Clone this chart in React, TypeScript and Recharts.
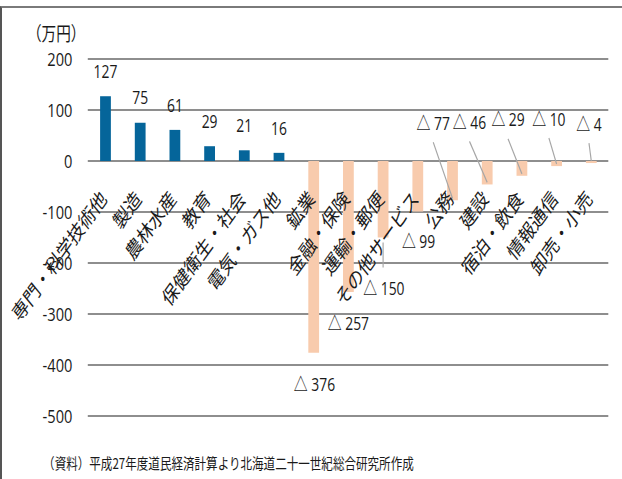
import { BarChart, Bar, XAxis, YAxis, CartesianGrid, Cell, LabelList } from "recharts";

// 産業別の変化額（万円）
const categories = [
  "専門・科学技術他",
  "製造",
  "農林水産",
  "教育",
  "保健衛生・社会",
  "電気・ガス他",
  "鉱業",
  "金融・保険",
  "運輸・郵便",
  "その他サービス",
  "公務",
  "建設",
  "宿泊・飲食",
  "情報通信",
  "卸売・小売",
];
const values = [127, 75, 61, 29, 21, 16, -376, -257, -150, -99, -77, -46, -29, -10, -4];
const yTicks = [-500, -400, -300, -200, -100, 0, 100, 200];

const data = categories.map((name, i) => ({ name, value: values[i] }));

// the picture is squeezed sideways, so the chart is drawn wide and then scaled
const SX = 0.77;
const W = Math.round(622 / SX);
const H = 479;

const POS = "#05659a";
const NEG = "#f8cbad";
const GRID = "#8e8e8e";
const INK = "#1a1a1a";
const NUM_FONT = "'Open Sans', 'Noto Sans CJK JP', sans-serif";
const JP_FONT = "'Noto Sans CJK JP', sans-serif";

// where the negative value labels sit, relative to the bar end: [dx, dy, leader line]
const negLabelPlace: Record<number, [number, number, boolean]> = {
  6: [1, 32, false],
  7: [0, 31, false],
  8: [1, 51, true],
  9: [1, 30, false],
  10: [-25, -77, true],
  11: [-23, -62, true],
  12: [-18, -56, true],
  13: [-10, -47, true],
  14: [-3, -39, true],
};

const barGeom = (p: any) => {
  const x = p.x ?? p.viewBox?.x;
  const y = p.y ?? p.viewBox?.y;
  const w = p.width ?? p.viewBox?.width;
  const h = p.height ?? p.viewBox?.height;
  const top = Math.min(y, y + h);
  const bottom = Math.max(y, y + h);
  return { cx: x + w / 2, top, bottom };
};

const ValueLabel = (p: any) => {
  const v = Number(p.value);
  const { cx, top, bottom } = barGeom(p);
  if (v >= 0) {
    return (
      <text x={cx} y={top - 25} textAnchor="middle" dominantBaseline="central" fontSize={18} fill={INK} fontFamily={NUM_FONT}>
        {v}
      </text>
    );
  }
  const place = negLabelPlace[p.index] || [0, 30, false];
  const lx = cx + place[0];
  const ly = bottom + place[1];
  let leader = null;
  if (place[2]) {
    leader =
      place[1] > 0 ? (
        <line x1={cx} y1={bottom + 5} x2={cx} y2={ly - 21} stroke="#a6a6a6" strokeWidth={1.5} />
      ) : (
        <line x1={lx} y1={ly + 19} x2={cx} y2={bottom - 2} stroke="#a6a6a6" strokeWidth={1.5} />
      );
  }
  return (
    <g>
      {leader}
      <text x={lx} y={ly} textAnchor="middle" dominantBaseline="central" fontSize={18} fill={INK} fontFamily={NUM_FONT}>
        {"△ " + Math.abs(v)}
      </text>
    </g>
  );
};

const CategoryLabel = (p: any) => {
  const { cx, top, bottom } = barGeom(p);
  const zero = Number(values[p.index]) >= 0 ? bottom : top;
  const px = cx + 3;
  const py = zero + 39;
  return (
    <text
      x={px}
      y={py}
      textAnchor="end"
      fontSize={21}
      fill={INK}
      fontFamily={JP_FONT}
      transform={`rotate(-47 ${px} ${py})`}
    >
      {p.value}
    </text>
  );
};

export default function App() {
  return (
    <div style={{ position: "absolute", left: 0, top: 0, width: 622, height: H, overflow: "hidden", background: "#fff" }}>
      <div style={{ position: "absolute", left: 0, top: 6, width: 622, height: H, borderTop: "2px solid #7a7a7a", borderLeft: "2px solid #555", boxSizing: "border-box" }} />
      <div style={{ position: "absolute", left: 0, top: 0, width: W, height: H, transform: `scaleX(${SX})`, transformOrigin: "0 0" }}>
        <div style={{ position: "absolute", left: 35, top: 18, fontSize: 19, fontFamily: JP_FONT, color: INK, lineHeight: "30px" }}>
          （万円）
        </div>
        <BarChart width={W} height={H} data={data} margin={{ top: 59, right: 18, bottom: 63, left: 0 }}>
          <CartesianGrid vertical={false} stroke={GRID} strokeWidth={2} />
          <XAxis dataKey="name" hide />
          <YAxis
            domain={[-500, 200]}
            ticks={yTicks}
            width={114}
            axisLine={false}
            tickLine={false}
            tickSize={0}
            tickMargin={20}
            tick={{ fontSize: 19, fill: INK, fontFamily: NUM_FONT }}
          />
          <Bar dataKey="value" barSize={14} isAnimationActive={false}>
            {data.map((d, i) => (
              <Cell key={i} fill={d.value >= 0 ? POS : NEG} />
            ))}
            <LabelList dataKey="value" content={<ValueLabel />} />
            <LabelList dataKey="name" content={<CategoryLabel />} />
          </Bar>
        </BarChart>
        <div style={{ position: "absolute", left: 56, top: 448, fontSize: 15, fontFamily: JP_FONT, color: INK, lineHeight: "30px", whiteSpace: "nowrap" }}>
          （資料）平成27年度道民経済計算より北海道二十一世紀総合研究所作成
        </div>
      </div>
    </div>
  );
}
